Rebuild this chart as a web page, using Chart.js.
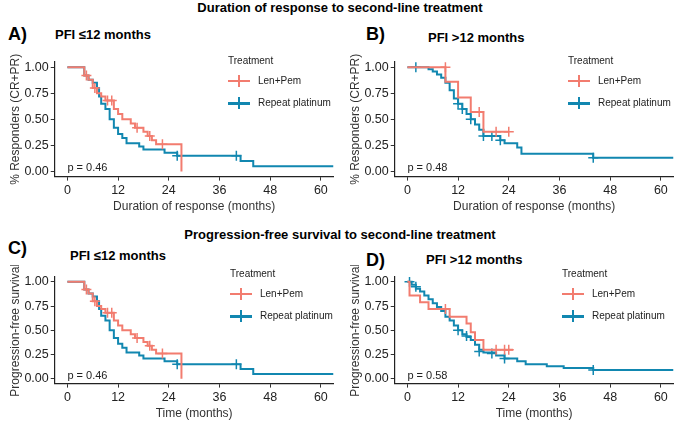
<!DOCTYPE html>
<html>
<head>
<meta charset="utf-8">
<script src="https://cdn.jsdelivr.net/npm/chart.js@4.4.1/dist/chart.umd.min.js"></script>
<style>
  body { margin: 0; width: 680px; height: 426px; background: #fff; font-family: "Liberation Sans", Arial, sans-serif; position: relative; overflow: hidden; }
  .abs { position: absolute; white-space: nowrap; }
  .main { font-weight: bold; font-size: 13px; width: 680px; text-align: center; left: 0; }
  .letter { font-weight: bold; font-size: 18px; }
  .sub { font-weight: bold; font-size: 13px; }
  .cv { position: absolute; }
  .lg { font-size: 10px; color: #222; }
  .key { display: inline-block; width: 22px; height: 2px; vertical-align: middle; margin-right: 8px; position: relative; }
  .key::after { content: ""; position: absolute; left: 10px; top: -5px; width: 2px; height: 12px; background: inherit; }
</style>
</head>
<body>
<div class="abs main" style="top:0">Duration of response to second-line treatment</div>
<div class="abs main" style="top:227px">Progression-free survival to second-line treatment</div>
<div class="abs letter" style="left:8px;top:24px">A)</div>
<div class="abs sub" style="left:55px;top:27px">PFI ≤12 months</div>
<div class="abs letter" style="left:366px;top:24px">B)</div>
<div class="abs sub" style="left:428px;top:30px">PFI &gt;12 months</div>
<div class="abs letter" style="left:8px;top:238px">C)</div>
<div class="abs sub" style="left:70px;top:248px">PFI ≤12 months</div>
<div class="abs letter" style="left:366px;top:250px">D)</div>
<div class="abs sub" style="left:426px;top:252px">PFI &gt;12 months</div>

<canvas id="cA" class="cv" style="left:0;top:50px" width="340" height="164"></canvas>
<canvas id="cB" class="cv" style="left:340px;top:50px" width="340" height="164"></canvas>
<canvas id="cC" class="cv" style="left:0;top:265px" width="340" height="156"></canvas>
<canvas id="cD" class="cv" style="left:340px;top:265px" width="340" height="156"></canvas>

<div id="legends"></div>

<script>
const LEN_COLOR = '#F27C6F';
const PLAT_COLOR = '#1187B0';
const xTicks = [0, 12, 24, 36, 48, 60];
const yTicks = [0, 0.25, 0.5, 0.75, 1];

// Panel A: duration of response, PFI <=12
const aLenTime = [0, 4, 5, 6, 7, 8, 9, 11, 12, 13, 15, 16, 18, 19, 20, 21, 27, 27];
const aLenSurv = [1, 0.92, 0.88, 0.8, 0.75, 0.72, 0.68, 0.6, 0.55, 0.5, 0.46, 0.42, 0.38, 0.34, 0.3, 0.26, 0, 0];
const aLenCensT = [4.5, 6.5, 9.5, 10.5, 16.5, 19.5, 22.5];
const aLenCensS = [0.92, 0.8, 0.68, 0.68, 0.42, 0.34, 0.26];
const aPlatTime = [0, 4, 5, 6, 7, 7.5, 8, 9, 10, 11, 12, 13, 14, 17, 18, 23, 26, 41, 44, 63];
const aPlatSurv = [1, 0.92, 0.88, 0.85, 0.8, 0.72, 0.65, 0.6, 0.5, 0.42, 0.36, 0.32, 0.27, 0.24, 0.21, 0.18, 0.15, 0.1, 0.05, 0.05];
const aPlatCensT = [26, 40];
const aPlatCensS = [0.15, 0.15];

// Panel B: duration of response, PFI >12
const bLenTime = [0, 9, 12, 15, 18, 24];
const bLenSurv = [1, 0.86, 0.71, 0.57, 0.38, 0.38];
const bLenCensT = [9, 17, 21, 24];
const bLenCensS = [1, 0.57, 0.38, 0.38];
const bPlatTime = [0, 5, 6, 7, 8, 9, 10, 11, 12, 13, 14, 15, 16, 17, 18, 22, 23, 26, 27, 44, 63];
const bPlatSurv = [1, 0.98, 0.96, 0.93, 0.9, 0.85, 0.78, 0.7, 0.65, 0.6, 0.55, 0.5, 0.45, 0.4, 0.34, 0.3, 0.27, 0.23, 0.17, 0.13, 0.13];
const bPlatCensT = [2, 12, 13, 15, 18, 20, 22, 44];
const bPlatCensS = [1, 0.65, 0.6, 0.5, 0.34, 0.34, 0.3, 0.13];

// Panel C: PFS, PFI <=12
const cLenTime = [0, 4, 5, 6, 7, 8, 9, 11, 12, 13, 15, 16, 18, 19, 20, 21, 27, 27];
const cLenSurv = [1, 0.92, 0.88, 0.8, 0.75, 0.72, 0.68, 0.6, 0.55, 0.5, 0.46, 0.42, 0.38, 0.34, 0.3, 0.26, 0, 0];
const cLenCensT = [4.5, 6.5, 9.5, 10.5, 16.5, 19.5, 22.5];
const cLenCensS = [0.92, 0.8, 0.68, 0.68, 0.42, 0.34, 0.26];
const cPlatTime = [0, 4, 5, 6, 7, 7.5, 8, 9, 10, 11, 12, 13, 14, 17, 18, 23, 26, 41, 44, 63];
const cPlatSurv = [1, 0.92, 0.88, 0.85, 0.8, 0.72, 0.65, 0.6, 0.5, 0.42, 0.36, 0.32, 0.27, 0.24, 0.21, 0.18, 0.15, 0.1, 0.05, 0.05];
const cPlatCensT = [26, 40];
const cPlatCensS = [0.15, 0.15];

// Panel D: PFS, PFI >12
const dLenTime = [0, 0.5, 3, 5, 10, 14, 15, 16, 18, 25];
const dLenSurv = [1, 0.86, 0.79, 0.72, 0.64, 0.57, 0.48, 0.4, 0.3, 0.3];
const dLenCensT = [9, 21, 23, 24];
const dLenCensS = [0.72, 0.3, 0.3, 0.3];
const dPlatTime = [0, 1, 2, 3, 4, 5, 6, 7, 8, 9, 10, 11, 12, 13, 14, 15, 16, 17, 18, 21, 23, 26, 28, 33, 37, 44, 63];
const dPlatSurv = [1, 0.97, 0.93, 0.9, 0.86, 0.82, 0.78, 0.74, 0.7, 0.64, 0.6, 0.55, 0.5, 0.46, 0.43, 0.4, 0.35, 0.3, 0.27, 0.24, 0.21, 0.18, 0.15, 0.13, 0.11, 0.09, 0.09];
const dPlatCensT = [0.5, 2, 12, 14, 17, 20, 23, 44];
const dPlatCensS = [1, 0.95, 0.5, 0.44, 0.28, 0.26, 0.21, 0.09];

function pts(t, s) { return t.map((x, i) => ({ x: x, y: s[i] })); }

const pValuePlugin = {
  id: 'pval',
  afterDatasetsDraw(chart, args, opts) {
    const ctx = chart.ctx;
    ctx.save();
    ctx.font = '11px "Liberation Sans", Arial, sans-serif';
    ctx.fillStyle = '#222';
    ctx.textBaseline = 'middle';
    ctx.fillText(opts.text, chart.scales.x.getPixelForValue(0), chart.scales.y.getPixelForValue(0.03));
    ctx.restore();
  }
};

function makeChart(id, yTitle, xTitle, p, lenT, lenS, lenCT, lenCS, platT, platS, platCT, platCS) {
  // Chart.js 'before' = hold the previous value, then drop at the new time (KM step)
  const line = (t, s, c) => ({ type: 'line', data: pts(t, s), borderColor: c, borderWidth: 2, stepped: 'before', pointRadius: 0, fill: false });
  const cens = (t, s, c) => ({ type: 'scatter', data: pts(t, s), borderColor: c, pointStyle: 'cross', pointRadius: 5, borderWidth: 1.5 });
  new Chart(document.getElementById(id), {
    type: 'scatter',
    data: { datasets: [
      line(lenT, lenS, LEN_COLOR), cens(lenCT, lenCS, LEN_COLOR),
      line(platT, platS, PLAT_COLOR), cens(platCT, platCS, PLAT_COLOR)
    ] },
    options: {
      responsive: false, animation: false,
      layout: { padding: { top: 12, right: 2, left: 8, bottom: 0 } },
      plugins: { legend: { display: false }, tooltip: { enabled: false }, pval: { text: p } },
      scales: {
        x: {
          type: 'linear', min: -3, max: 63,
          afterBuildTicks: ax => { ax.ticks = xTicks.map(v => ({ value: v })); },
          ticks: { color: '#222', font: { size: 12.5 }, padding: 2 },
          grid: { drawOnChartArea: false, color: '#333', tickLength: 4 },
          border: { color: '#222', width: 1.2 },
          title: { display: true, text: xTitle, color: '#333', font: { size: 12 }, padding: 0 }
        },
        y: {
          min: -0.05, max: 1.05,
          afterBuildTicks: ax => { ax.ticks = yTicks.map(v => ({ value: v })); },
          ticks: { color: '#222', font: { size: 12.5 }, padding: 2, callback: v => v.toFixed(2) },
          grid: { drawOnChartArea: false, color: '#333', tickLength: 4 },
          border: { color: '#222', width: 1.2 },
          title: { display: true, text: yTitle, color: '#333', font: { size: 12 }, padding: 0 }
        }
      }
    },
    plugins: [pValuePlugin]
  });
}

makeChart('cA', '% Responders (CR+PR)', 'Duration of response (months)', 'p = 0.46', aLenTime, aLenSurv, aLenCensT, aLenCensS, aPlatTime, aPlatSurv, aPlatCensT, aPlatCensS);
makeChart('cB', '% Responders (CR+PR)', 'Duration of response (months)', 'p = 0.48', bLenTime, bLenSurv, bLenCensT, bLenCensS, bPlatTime, bPlatSurv, bPlatCensT, bPlatCensS);
makeChart('cC', 'Progression-free survival', 'Time (months)', 'p = 0.46', cLenTime, cLenSurv, cLenCensT, cLenCensS, cPlatTime, cPlatSurv, cPlatCensT, cPlatCensS);
makeChart('cD', 'Progression-free survival', 'Time (months)', 'p = 0.58', dLenTime, dLenSurv, dLenCensT, dLenCensS, dPlatTime, dPlatSurv, dPlatCensT, dPlatCensS);

// legends, ggplot style to the right of each panel
const legendSpots = [[228, 55], [568, 55], [230, 268], [562, 268]];
const box = document.getElementById('legends');
legendSpots.forEach(([l, t]) => {
  box.insertAdjacentHTML('beforeend',
    `<div class="abs lg" style="left:${l}px;top:${t}px">Treatment</div>` +
    `<div class="abs lg" style="left:${l}px;top:${t + 20}px"><span class="key" style="background:${LEN_COLOR}"></span>Len+Pem</div>` +
    `<div class="abs lg" style="left:${l}px;top:${t + 42}px"><span class="key" style="background:${PLAT_COLOR};height:3px"></span>Repeat platinum</div>`);
});
</script>
</body>
</html>
